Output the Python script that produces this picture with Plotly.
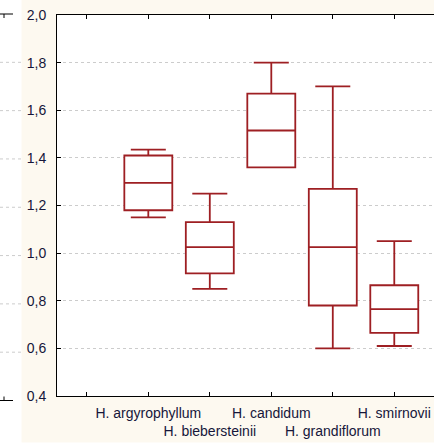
import plotly.graph_objects as go

# ---- data ----
species = ["H. argyrophyllum", "H. biebersteinii", "H. candidum", "H. grandiflorum", "H. smirnovii"]
positions = [0, 1, 2, 3, 4]
v_min = [1.15, 0.85, 1.36, 0.60, 0.61]
v_q1 = [1.18, 0.915, 1.36, 0.78, 0.665]
v_median = [1.295, 1.025, 1.515, 1.025, 0.765]
v_q3 = [1.41, 1.13, 1.67, 1.27, 0.865]
v_max = [1.435, 1.25, 1.80, 1.70, 1.05]
# staggered tick labels (every other one on the second row)
tick_vals = [-1] + positions
tick_text = [""] + [("<br>" + s if i % 2 else s) for i, s in enumerate(species)]

# ---- style ----
W, H = 434, 446
ML, MR, MT, MB = 57, 0, 15, 50
BEIGE = "#fdf9f0"
RED = "#9e1f23"
TXT = "#16163a"
GRID = "#cccccc"
FONT = "Liberation Sans, Arial, sans-serif"

pw, ph = W - ML - MR, H - MT - MB
def px(x):  # pixel -> paper x
    return (x - ML) / pw
def py(y):  # pixel -> paper y
    return (H - MB - y) / ph

fig = go.Figure()
fig.add_trace(go.Box(
    x=positions, q1=v_q1, median=v_median, q3=v_q3,
    lowerfence=v_min, upperfence=v_max,
    width=0.78, whiskerwidth=0.73,
    line=dict(color=RED, width=1.8), fillcolor="white",
    boxpoints=False, showlegend=False, hoverinfo="skip",
))

shapes = []
# white strip on the left (neighbouring panel) and at the bottom
shapes.append(dict(type="rect", xref="paper", yref="paper", x0=px(0), x1=px(21.5),
                   y0=py(H), y1=py(0), fillcolor="white", line_width=0, layer="below"))
shapes.append(dict(type="rect", xref="paper", yref="paper", x0=px(0), x1=px(W),
                   y0=py(H), y1=py(442.5), fillcolor="white", line_width=0, layer="below"))
# neighbour panel frame fragments
for yy, t in [(14, 4), (400.5, -4)]:
    shapes.append(dict(type="line", xref="paper", yref="paper", x0=px(0), x1=px(13),
                       y0=py(yy), y1=py(yy), line=dict(color="black", width=1)))
    shapes.append(dict(type="line", xref="paper", yref="paper", x0=px(4), x1=px(4),
                       y0=py(yy), y1=py(yy + t), line=dict(color="black", width=1)))
for k in range(1, 8):
    yy = 14 + k * (400.5 - 14) / 8
    shapes.append(dict(type="line", xref="paper", yref="paper", x0=px(0), x1=px(21),
                       y0=py(yy), y1=py(yy), line=dict(color=GRID, width=1, dash="dot")))

fig.update_layout(
    width=W, height=H,
    margin=dict(l=ML, r=MR, t=MT, b=MB, pad=0, autoexpand=False),
    paper_bgcolor=BEIGE, plot_bgcolor="white",
    separators=", ",
    font=dict(family=FONT, size=14, color=TXT),
    shapes=shapes,
    xaxis=dict(
        range=[-1.485, 4.646], tickmode="array", tickvals=tick_vals, ticktext=tick_text,
        tickangle=0, automargin=False,
        ticks="inside", ticklen=4, tickcolor="black", showline=True, linecolor="black",
        linewidth=1, mirror="ticks", showgrid=False, zeroline=False,
        tickfont=dict(family=FONT, size=14, color=TXT), ticklabelstandoff=4,
    ),
    yaxis=dict(
        range=[0.4, 2.0], tick0=0.4, dtick=0.2, tickformat=".1f", automargin=False,
        ticks="inside", ticklen=4, tickcolor="black", showline=True, linecolor="black",
        linewidth=1, showgrid=True, gridcolor=GRID, griddash="dot", gridwidth=1,
        zeroline=False, tickfont=dict(family=FONT, size=14, color=TXT), ticklabelstandoff=7,
    ),
)

fig.write_html("out.html")
